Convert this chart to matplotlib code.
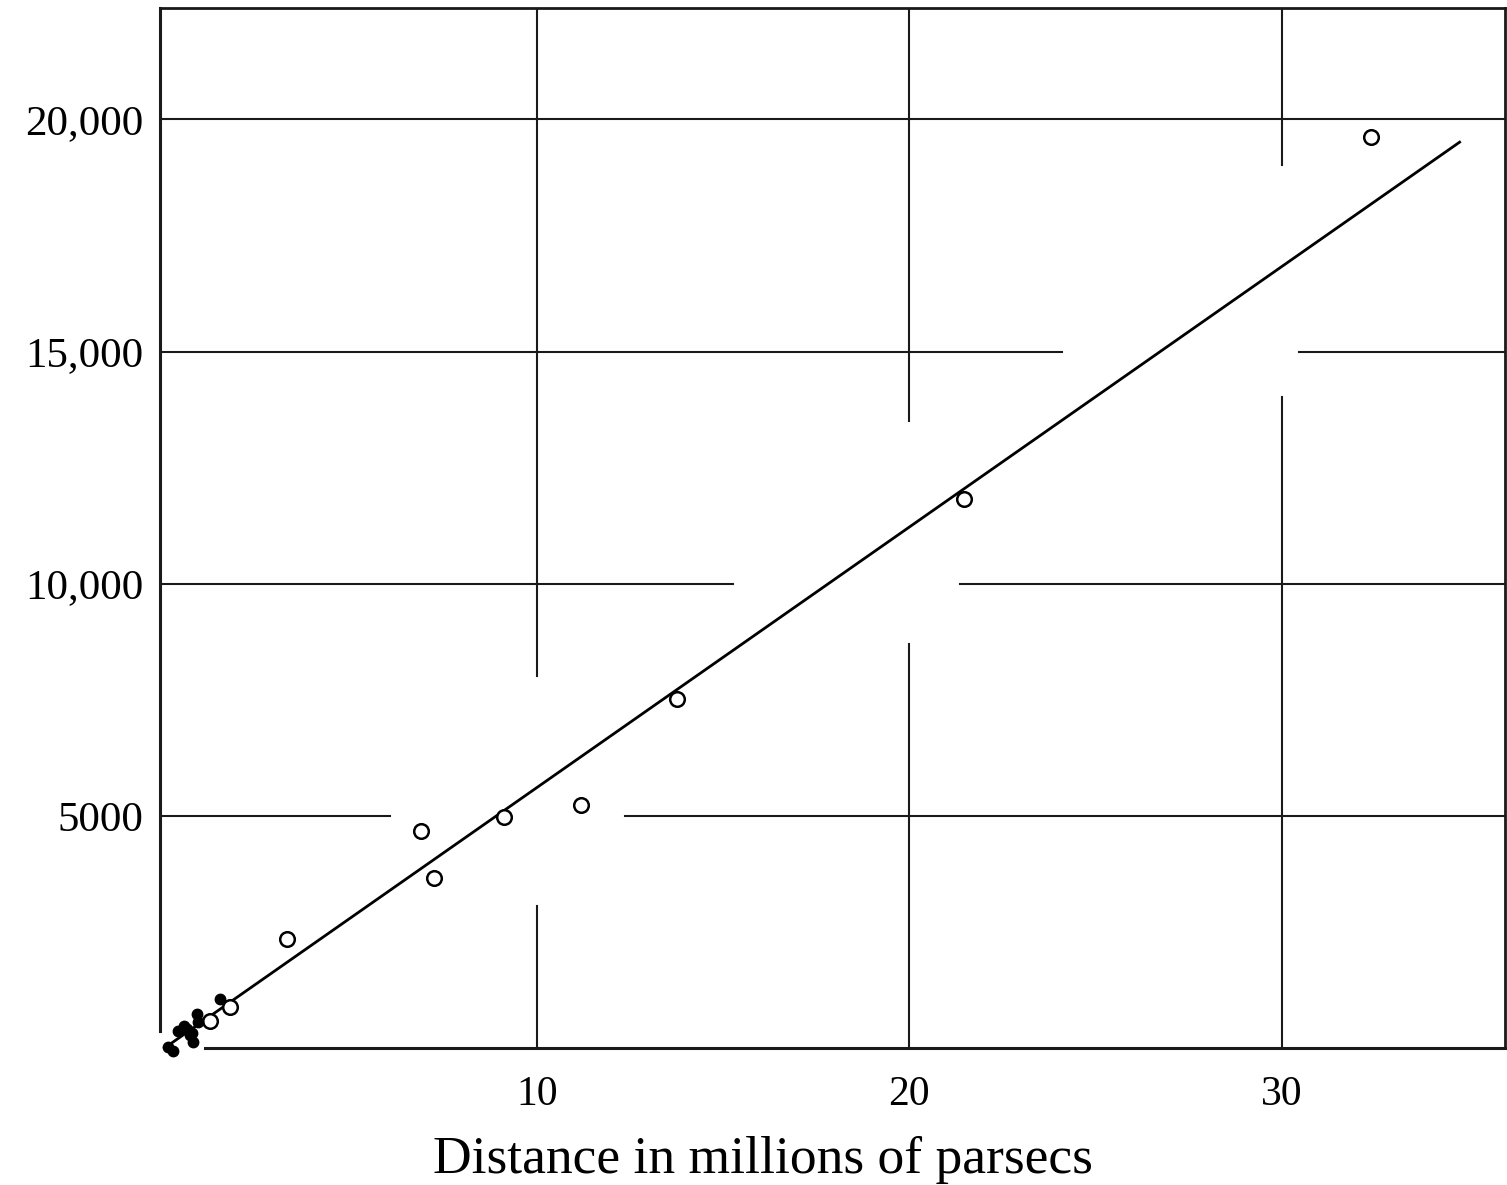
import matplotlib
matplotlib.use("Agg")
import matplotlib.pyplot as plt
import numpy as np

# Data (distance in Mpc, velocity km/s) - Hubble & Humason 1931
dist_open = [32.39, 21.46, 13.76, 11.18, 9.11, 6.89, 7.23, 3.29, 1.76, 1.22]
vel_open = [19620, 11820, 7520, 5240, 4980, 4680, 3670, 2355, 892, 591]

dist_near = [1.49, 0.87, 0.90, 0.60, 0.36, 0.77, 0.09, 0.23, 0.74, 0.68, 0.52]
vel_near = [1064, 742, 570, 419, 376, 140, 32, -75, 330, 290, 470]

slope = 561.0  # km/s per Mpc
fit_x = [0.0, 34.78]

xticks = [10, 20, 30]
xticklabels = ["10", "20", "30"]
yticks = [5000, 10000, 15000, 20000]
yticklabels = ["5000", "10,000", "15,000", "20,000"]

fig = plt.figure(figsize=(15.07, 11.85), dpi=100)
ax = fig.add_axes([0.1062, 0.1156, 0.8925, 0.8776])
xmin, xmax = -0.12, 36.0
ymin, ymax = 0, 22400
ax.set_xlim(xmin, xmax)
ax.set_ylim(ymin, ymax)

gcol = "#1a1a1a"
glw = 1.5
# horizontal grid lines with print gaps (y, gap_start, gap_end)
hgrid = [(5000, 6.05, 12.36), (10000, 15.26, 21.36), (15000, 24.09, 30.48), (20000, None, None)]
for y, g0, g1 in hgrid:
    if g0 is None:
        ax.plot([xmin, xmax], [y, y], color=gcol, lw=glw, zorder=1)
    else:
        ax.plot([xmin, g0], [y, y], color=gcol, lw=glw, zorder=1)
        ax.plot([g1, xmax], [y, y], color=gcol, lw=glw, zorder=1)
vgrid = [(10, 3065, 8011), (20, 8699, 13495), (30, 14032, 19022)]
for x, g0, g1 in vgrid:
    ax.plot([x, x], [ymin, g0], color=gcol, lw=glw, zorder=1)
    ax.plot([x, x], [g1, ymax], color=gcol, lw=glw, zorder=1)

# spines
for s in ["left", "bottom"]:
    ax.spines[s].set_visible(False)
for s in ["top", "right"]:
    ax.spines[s].set_linewidth(2.0)
    ax.spines[s].set_color(gcol)
ax.plot([xmin, xmin], [360, ymax], color=gcol, lw=2.2, zorder=2, clip_on=False)
ax.plot([1.09, xmax], [ymin, ymin], color=gcol, lw=2.2, zorder=2, clip_on=False)

# fit line
fx = np.array(fit_x)
ax.plot(fx, slope * fx, color="black", lw=2.0, zorder=3)

# points
ax.plot(dist_open, vel_open, linestyle="none", marker="o", markersize=10.5,
        markerfacecolor="white", markeredgecolor="black", markeredgewidth=1.8, zorder=4)
ax.plot(dist_near, vel_near, linestyle="none", marker="o", markersize=7.5,
        markerfacecolor="black", markeredgecolor="black", zorder=4, clip_on=False)

ax.tick_params(length=0)
ax.set_xticks(xticks)
ax.set_xticklabels(xticklabels, fontfamily="Liberation Serif", fontsize=30)
ax.set_yticks(yticks)
ax.set_yticklabels(yticklabels, fontfamily="Liberation Serif", fontsize=31)
ax.tick_params(axis="x", pad=20)
ax.tick_params(axis="y", pad=12)
ax.set_xlabel("Distance in millions of parsecs", fontfamily="Liberation Serif",
              fontsize=38.5)
ax.xaxis.set_label_coords(0.448, -0.108)
ax.xaxis.label.set_va("center")
ax.grid(False)

fig.savefig("out.png", dpi=100)
